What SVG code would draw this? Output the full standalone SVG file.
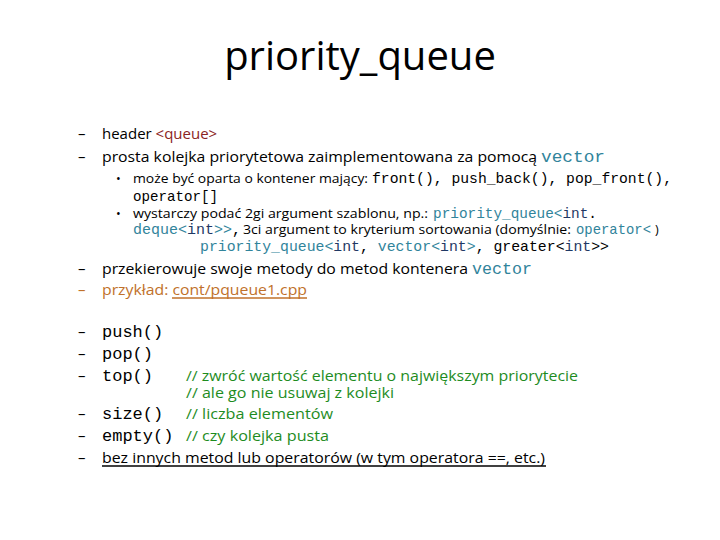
<svg xmlns="http://www.w3.org/2000/svg" width="720" height="540" viewBox="0 0 720 540">
<style>
.s{font-family:"Open Sans","Liberation Sans",sans-serif;fill:#000}
.m{font-family:"Liberation Mono","DejaVu Sans Mono",monospace}
.b{font-size:15px}
.sb{font-size:12.5px}
.t{fill:#31849B}
.r{fill:#8B2323}
.n{fill:#1F3864}
.g{fill:#1E8C1E;font-family:"Open Sans","Liberation Sans",sans-serif;font-size:14.5px}
</style>
<rect width="720" height="540" fill="#fff"/>
<text x="360" y="70" text-anchor="middle" class="s" font-size="40">priority_queue</text>
<g class="s b">
<text x="78" y="139">–</text><text x="78" y="162">–</text><text x="78" y="274">–</text>
<text x="78" y="295" style="fill:#C0712A">–</text>
<text x="78" y="337">–</text><text x="78" y="359">–</text><text x="78" y="381">–</text>
<text x="78" y="419">–</text><text x="78" y="441">–</text><text x="78" y="463">–</text>
</g>
<text x="102" y="139" class="s b">header <tspan class="r">&lt;queue&gt;</tspan></text>
<text x="102" y="162" class="s b" textLength="435" lengthAdjust="spacingAndGlyphs">prosta kolejka priorytetowa zaimplementowana za pomocą</text>
<text x="541" y="162" class="m t" font-size="17" textLength="64" lengthAdjust="spacingAndGlyphs">vector</text>
<g class="s sb">
<text x="116" y="183">•</text><text x="116" y="218">•</text>
</g>
<text x="133" y="183" class="s sb" textLength="235" lengthAdjust="spacingAndGlyphs">może być oparta o kontener mający:</text>
<text x="372" y="183" class="m" font-size="15" textLength="300" lengthAdjust="spacingAndGlyphs">front(), push_back(), pop_front(),</text>
<text x="133" y="201" class="m" font-size="15" textLength="85" lengthAdjust="spacingAndGlyphs">operator[]</text>
<text x="133" y="218" class="s sb" textLength="295" lengthAdjust="spacingAndGlyphs">wystarczy podać 2gi argument szablonu, np.:</text>
<text x="433" y="218" class="m" font-size="15" textLength="164" lengthAdjust="spacingAndGlyphs"><tspan class="t">priority_queue&lt;</tspan><tspan class="n">int</tspan>.</text>
<text x="133" y="234" class="m" font-size="15" textLength="108" lengthAdjust="spacingAndGlyphs"><tspan class="t">deque&lt;</tspan><tspan class="n">int</tspan><tspan class="t">&gt;&gt;</tspan>,</text>
<text x="243" y="234" class="s sb" textLength="328" lengthAdjust="spacingAndGlyphs">3ci argument to kryterium sortowania (domyślnie:</text>
<text x="576" y="234" class="m t" font-size="15" textLength="75" lengthAdjust="spacingAndGlyphs">operator&lt;</text>
<text x="655" y="234" class="s sb">)</text>
<text x="200" y="251" class="m" font-size="15" textLength="409" lengthAdjust="spacingAndGlyphs"><tspan class="t">priority_queue&lt;</tspan><tspan class="n">int</tspan>, <tspan class="t">vector&lt;</tspan><tspan class="n">int</tspan><tspan class="t">&gt;</tspan>, greater&lt;<tspan class="n">int</tspan>&gt;&gt;</text>
<text x="102" y="274" class="s b" textLength="366" lengthAdjust="spacingAndGlyphs">przekierowuje swoje metody do metod kontenera</text>
<text x="472" y="274" class="m t" font-size="17" textLength="60" lengthAdjust="spacingAndGlyphs">vector</text>
<text x="102" y="295" class="s b" style="fill:#C0712A" textLength="205" lengthAdjust="spacingAndGlyphs">przykład: cont/pqueue1.cpp</text>
<line x1="172" y1="298" x2="307" y2="298" stroke="#C0712A" stroke-width="1.5"/>
<g class="m" font-size="17">
<text x="102" y="337">push()</text>
<text x="102" y="359">pop()</text>
<text x="102" y="381">top()</text>
<text x="102" y="419">size()</text>
<text x="102" y="441">empty()</text>
</g>
<text x="186" y="381" class="g" textLength="392" lengthAdjust="spacingAndGlyphs">// zwróć wartość elementu o największym priorytecie</text>
<text x="186" y="398" class="g" textLength="208" lengthAdjust="spacingAndGlyphs">// ale go nie usuwaj z kolejki</text>
<text x="186" y="419" class="g" textLength="147" lengthAdjust="spacingAndGlyphs">// liczba elementów</text>
<text x="186" y="441" class="g" textLength="143" lengthAdjust="spacingAndGlyphs">// czy kolejka pusta</text>
<text x="102" y="463" class="s b" textLength="443" lengthAdjust="spacingAndGlyphs">bez innych metod lub operatorów (w tym operatora ==, etc.)</text>
<line x1="102" y1="466" x2="546" y2="466" stroke="#000" stroke-width="1.5"/>
</svg>
